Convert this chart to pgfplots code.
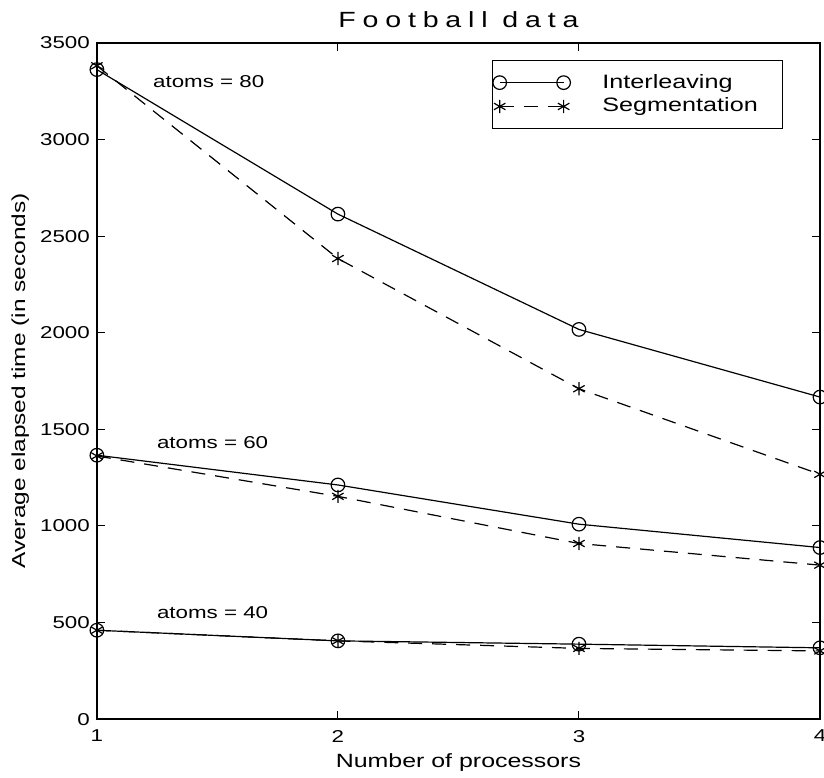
\documentclass[border=0pt]{standalone}
\usepackage{fontspec}
\setmainfont{Liberation Sans}[FakeStretch=1.3]
\newfontfamily\spaced{Liberation Sans}[FakeStretch=1.3, LetterSpace=31]
\usepackage{pgfplots}
\pgfplotsset{compat=1.18}
\begin{document}
\begin{tikzpicture}
\begin{axis}[
  scale only axis,
  width=362pt, height=338.5pt,
  xmin=1, xmax=4, ymin=0, ymax=3500,
  xtick={1,2,3,4}, ytick={0,500,...,3500},
  tick align=inside, major tick length=4pt,
  tick style={black, line width=0.5pt},
  axis line style={line width=0.7pt},
  /pgf/number format/assume math mode=true,
  /pgf/number format/1000 sep={},
  tick label style={font=\fontsize{8.6}{10}\selectfont},
  xticklabel style={yshift=-2pt},
  title={\spaced Football data},
  title style={font=\fontsize{11}{12}\selectfont, at={(axis description cs:0.5,1.0044)}, anchor=base},
  xlabel={Number of processors},
  xlabel style={font=\fontsize{9.6}{10}\selectfont, at={(axis description cs:0.5,-0.071)}, anchor=base},
  ylabel={Average elapsed time (in seconds)},
  ylabel style={font=\fontsize{9.4}{10}\selectfont, at={(axis description cs:-0.106,0.5)}, anchor=center},
  legend style={at={(axis description cs:0.547,0.975)}, anchor=north west,
    font=\fontsize{9.7}{10}\selectfont, inner xsep=0pt, inner ysep=6.9pt,
    draw=black, line width=0.5pt, row sep=3.4pt,
    nodes={inner sep=0pt}},
  legend cell align=left,
  legend image code/.code={\draw[#1] plot coordinates {(0pt,0pt) (32pt,0pt)};},
]
% Interleaving
\addplot[black, line width=0.6pt, mark=o, mark size=3.4pt, mark options={solid}] coordinates {(1,3362) (2,2614) (3,2017) (4,1667)};
\addlegendentry{\makebox[106pt][l]{\hspace{16pt}Interleaving}}
\addplot[black, line width=0.6pt, dash pattern=on 7pt off 5pt, mark=asterisk, mark size=3.3pt, mark options={solid}] coordinates {(1,3382) (2,2384) (3,1710) (4,1267)};
\addlegendentry{\makebox[106pt][l]{\hspace{16pt}Segmentation}}
\addplot[black, line width=0.6pt, mark=o, mark size=3.4pt, mark options={solid}, forget plot] coordinates {(1,1366) (2,1212) (3,1009) (4,888)};
\addplot[black, line width=0.6pt, dash pattern=on 7pt off 5pt, mark=asterisk, mark size=3.3pt, mark options={solid}, forget plot] coordinates {(1,1362) (2,1153) (3,909) (4,797)};
\addplot[black, line width=0.6pt, mark=o, mark size=3.4pt, mark options={solid}, forget plot] coordinates {(1,460) (2,405) (3,388) (4,369)};
\addplot[black, line width=0.6pt, dash pattern=on 7pt off 5pt, mark=asterisk, mark size=3.3pt, mark options={solid}, forget plot] coordinates {(1,460) (2,405) (3,366) (4,353)};
\node[font=\fontsize{8.6}{10}\selectfont] at (axis cs:1.464,3298) {atoms = 80};
\node[font=\fontsize{8.6}{10}\selectfont] at (axis cs:1.48,1430) {atoms = 60};
\node[font=\fontsize{8.6}{10}\selectfont] at (axis cs:1.48,551) {atoms = 40};
\end{axis}
\pgfresetboundingbox
\path[use as bounding box] ([xshift=-48.5pt,yshift=-29pt]current axis.south west) rectangle ([xshift=2pt,yshift=21.5pt]current axis.north east);
\end{tikzpicture}
\end{document}
